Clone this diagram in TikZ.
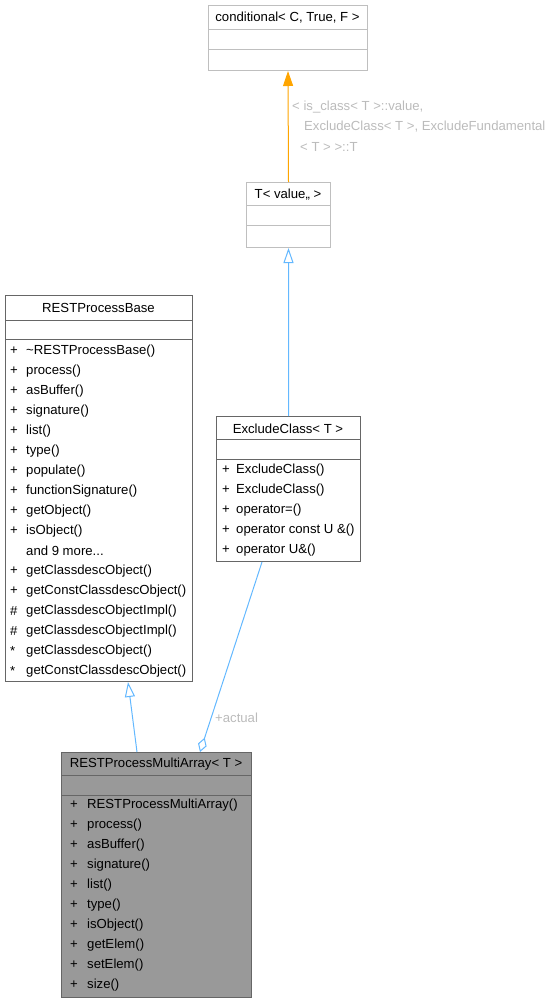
\documentclass[tikz,border=0pt]{standalone}
\usepackage{fontspec}
\setmainfont{Liberation Sans}
\usetikzlibrary{arrows.meta}
\definecolor{darkb}{HTML}{666666}
\definecolor{lightb}{HTML}{BFBFBF}
\definecolor{multifill}{HTML}{999999}
\definecolor{edgeblue}{HTML}{63B8FF}
\definecolor{edgeorange}{HTML}{FFA500}
\definecolor{lbl}{HTML}{BBBBBB}
\newcommand\mydots{...}
\tikzset{
  box/.style={draw=darkb, line width=1bp, anchor=north west, inner sep=0, fill=white},
  lbox/.style={box, draw=lightb},
  txt/.style={anchor=west, inner sep=0, yshift=-1bp, font=\fontsize{13.2}{15}\selectfont},
  ttl/.style={anchor=center, inner sep=0, yshift=-1bp, font=\fontsize{13.2}{15}\selectfont},
  elbl/.style={txt, text=lbl},
  inh/.style={draw=edgeblue, line width=1bp, -{Triangle[open, fill=white, length=15bp, width=10bp]}},
  agg/.style={draw=edgeblue, line width=1bp, -{Diamond[open, fill=white, length=15bp, width=9bp]}},
  dep/.style={draw=edgeorange, line width=1bp, -{Triangle[length=15bp, width=10bp]}},
}
\begin{document}
\begin{tikzpicture}[x=1bp,y=-1bp]
\useasboundingbox (0,0) rectangle (555,1003);

% conditional box
\node[lbox, minimum width=159bp, minimum height=65bp] (cond) at (208,5) {};
\draw[lightb, line width=1bp] ([yshift=-24bp]cond.north west) -- ([yshift=-24bp]cond.north east);
\draw[lightb, line width=1bp] ([yshift=-44bp]cond.north west) -- ([yshift=-44bp]cond.north east);
\node[ttl] (condt) at (287.5,17) {conditional< C, True, F >};

% T< value,, > box
\node[lbox, minimum width=84bp, minimum height=65bp] (tv) at (246,182) {};
\draw[lightb, line width=1bp] ([yshift=-23bp]tv.north west) -- ([yshift=-23bp]tv.north east);
\draw[lightb, line width=1bp] ([yshift=-43bp]tv.north west) -- ([yshift=-43bp]tv.north east);
\node[ttl] (tvt) at (288,193.5) {T< value,, >};

% RESTProcessBase
\node[box, minimum width=187bp, minimum height=386bp] (base) at (5,295) {};
\draw[darkb, line width=1bp] ([yshift=-25bp]base.north west) -- ([yshift=-25bp]base.north east);
\draw[darkb, line width=1bp] ([yshift=-44bp]base.north west) -- ([yshift=-44bp]base.north east);
\node[ttl] (baset) at (98.5,307) {RESTProcessBase};
\foreach \p/\n [count=\i from 0] in {+/\textasciitilde RESTProcessBase(), +/process(), +/asBuffer(), +/signature(), +/list(), +/type(), +/populate(), +/functionSignature(), +/getObject(), +/isObject(), {}/{and 9 more\mydots}, +/getClassdescObject(), +/getConstClassdescObject(), \#/getClassdescObjectImpl(), \#/getClassdescObjectImpl(), */getClassdescObject(), */getConstClassdescObject()} {
  \node[txt] (bp\i) at (10,350+20*\i) {\p};
  \node[txt] (bn\i) at (26,350+20*\i) {\n};
}

% ExcludeClass
\node[box, minimum width=144bp, minimum height=145bp] (excl) at (216,416) {};
\draw[darkb, line width=1bp] ([yshift=-23bp]excl.north west) -- ([yshift=-23bp]excl.north east);
\draw[darkb, line width=1bp] ([yshift=-43bp]excl.north west) -- ([yshift=-43bp]excl.north east);
\node[ttl] (exclt) at (288,427.5) {ExcludeClass< T >};
\foreach \n [count=\i from 0] in {ExcludeClass(), ExcludeClass(), operator=(), operator const U \&(), operator U\&()} {
  \node[txt] (ep\i) at (222,469+20*\i) {+};
  \node[txt] (en\i) at (236,469+20*\i) {\n};
}

% RESTProcessMultiArray
\node[box, fill=multifill, minimum width=190bp, minimum height=245bp] (multi) at (61,752) {};
\draw[darkb, line width=1bp] ([yshift=-23bp]multi.north west) -- ([yshift=-23bp]multi.north east);
\draw[darkb, line width=1bp] ([yshift=-43bp]multi.north west) -- ([yshift=-43bp]multi.north east);
\node[ttl] (multit) at (156,763.5) {RESTProcessMultiArray< T >};
\foreach \n [count=\i from 0] in {RESTProcessMultiArray(), process(), asBuffer(), signature(), list(), type(), isObject(), getElem(), setElem(), size()} {
  \node[txt] (mp\i) at (70,804+20*\i) {+};
  \node[txt] (mn\i) at (87,804+20*\i) {\n};
}

% edges
\draw[dep] (tv.north) -- (cond.south);
\node[elbl] (l1) at (292,106) {< is\_class< T >::value,};
\node[elbl] (l2) at (304,126) {ExcludeClass< T >, ExcludeFundamental};
\node[elbl] (l3) at (300,146) {< T > >::T};

\draw[inh] (excl.north) -- (tv.south);
\draw[inh] ([xshift=76bp]multi.north west) -- ([xshift=123bp]base.south west);
\draw[agg] ([xshift=46bp]excl.south west) -- ([xshift=139bp]multi.north west);
\node[elbl] (l4) at (215,716.5) {+actual};
\end{tikzpicture}
\end{document}
